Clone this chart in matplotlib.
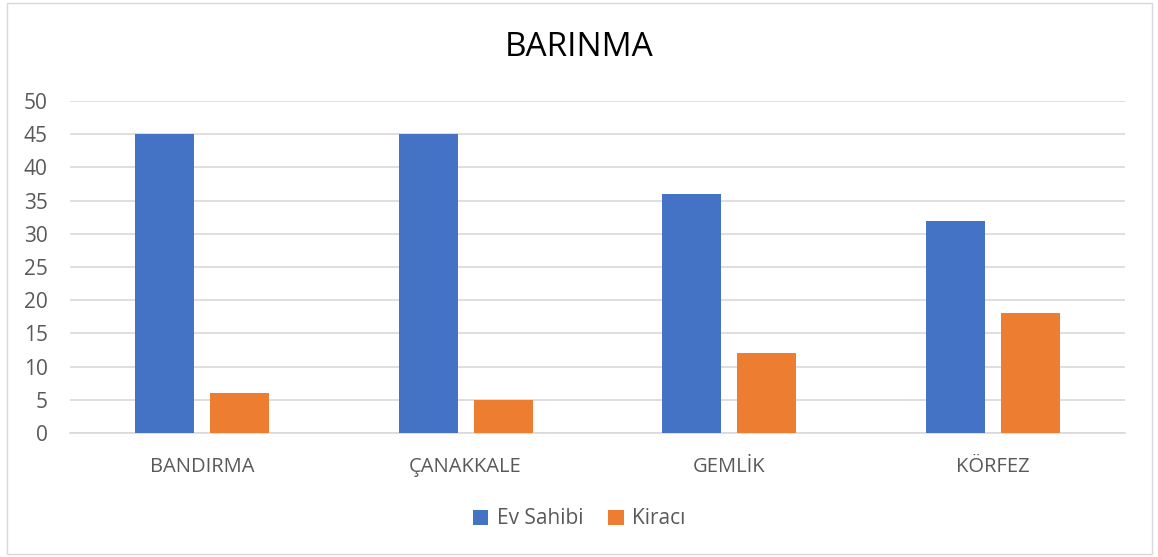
import matplotlib.pyplot as plt
import numpy as np
from matplotlib.patches import Rectangle

plt.rcParams["font.family"] = ["Open Sans", "DejaVu Sans"]

categories = ["BANDIRMA", "ÇANAKKALE", "GEMLİK", "KÖRFEZ"]
ev_sahibi = [45, 45, 36, 32]
kiraci = [6, 5, 12, 18]
yticks = [0, 5, 10, 15, 20, 25, 30, 35, 40, 45, 50]

BLUE = "#4472C4"
ORANGE = "#ED7D31"
TXT = "#595959"

fig = plt.figure(figsize=(11.58, 5.57), dpi=100)
ax = fig.add_axes([0.0604, 0.2226, 0.9111, 0.5961])

x = np.arange(len(categories))
w = 0.224
ax.bar(x - 0.142, ev_sahibi, w, color=BLUE, label="Ev Sahibi", zorder=3)
ax.bar(x + 0.142, kiraci, w, color=ORANGE, label="Kiracı", zorder=3)

ax.set_xlim(-0.5, len(categories) - 0.5)
ax.set_ylim(0, 50)
ax.set_yticks(yticks)
ax.set_xticks(x)
ax.set_xticklabels(categories)
ax.tick_params(axis="y", length=0, labelsize=15, colors=TXT, pad=16)
ax.tick_params(axis="x", length=0, labelsize=14.5, colors=TXT, pad=17)
ax.grid(axis="y", color="#D9D9D9", linewidth=1.2, zorder=0)
for s in ["top", "right", "left"]:
    ax.spines[s].set_visible(False)
ax.spines["bottom"].set_color("#D9D9D9")
ax.spines["bottom"].set_linewidth(1.2)

fig.text(0.5, 1 - 48 / 557, "BARINMA", ha="center", va="center", fontsize=24, color="black")

fig.legend(loc="center", bbox_to_anchor=(0.5, 1 - 519 / 557), ncol=2, frameon=False,
           fontsize=15, labelcolor=TXT, handlelength=0.75, handleheight=0.75,
           handletextpad=0.4, columnspacing=1.2)

fig.patches.append(Rectangle((7 / 1158, 3 / 557), 1145 / 1158, 551 / 557,
                             transform=fig.transFigure, fill=False,
                             edgecolor="#D9D9D9", linewidth=1))

fig.savefig("out.png", dpi=100)
